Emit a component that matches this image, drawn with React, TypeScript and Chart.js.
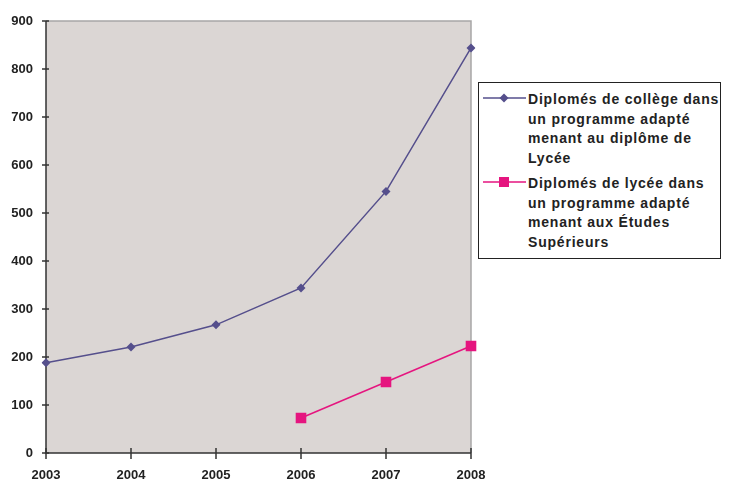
import React, { useEffect, useRef } from "react";
import { Chart, registerables } from "chart.js";

Chart.register(...registerables);

const years = ["2003", "2004", "2005", "2006", "2007", "2008"];
const collegeValues = [188, 221, 267, 344, 545, 844];
const lyceeValues = [null, null, null, 73, 148, 223];
const collegeLabel = ["Diplomés de collège dans", "un programme adapté", "menant au diplôme de", "Lycée"];
const lyceeLabel = ["Diplomés de lycée dans", "un programme adapté", "menant aux Études", "Supérieurs"];

const COLLEGE_COLOR = "#554f8c";
const LYCEE_COLOR = "#e5157f";
const FONT = "'Liberation Sans', Arial, sans-serif";

const plotDecor = {
  id: "plotDecor",
  beforeDatasetsDraw(chart: any) {
    const { ctx, chartArea } = chart;
    const { left, right, top, bottom } = chartArea;
    ctx.save();
    ctx.fillStyle = "#dbd6d4";
    ctx.fillRect(left, top, right - left, bottom - top);
    ctx.strokeStyle = "#a8a6a6";
    ctx.lineWidth = 1.5;
    ctx.beginPath();
    ctx.moveTo(left, top);
    ctx.lineTo(right, top);
    ctx.lineTo(right, bottom);
    ctx.stroke();
    ctx.strokeStyle = "#333333";
    ctx.lineWidth = 1.5;
    ctx.beginPath();
    ctx.moveTo(left, top);
    ctx.lineTo(left, bottom);
    ctx.lineTo(right, bottom);
    ctx.stroke();
    const ys = chart.scales.y;
    ys.ticks.forEach((t: any) => {
      const py = ys.getPixelForValue(t.value);
      ctx.beginPath();
      ctx.moveTo(left - 4, py);
      ctx.lineTo(left + 3, py);
      ctx.stroke();
    });
    const xs = chart.scales.x;
    years.forEach((_, i) => {
      const px = xs.getPixelForValue(i);
      ctx.beginPath();
      ctx.moveTo(px, bottom - 5);
      ctx.lineTo(px, bottom + 6);
      ctx.stroke();
    });
    ctx.restore();
  },
};

export default function App() {
  const ref = useRef<HTMLCanvasElement>(null);
  useEffect(() => {
    if (!ref.current) return;
    const chart = new Chart(ref.current, {
      type: "line",
      data: {
        labels: years,
        datasets: [
          {
            label: collegeLabel.join(" "),
            data: collegeValues,
            borderColor: COLLEGE_COLOR,
            backgroundColor: COLLEGE_COLOR,
            borderWidth: 1.5,
            pointStyle: "rectRot",
            pointRadius: 4.5,
            pointBorderWidth: 0,
          },
          {
            label: lyceeLabel.join(" "),
            data: lyceeValues,
            borderColor: LYCEE_COLOR,
            backgroundColor: LYCEE_COLOR,
            borderWidth: 1.5,
            pointStyle: "rect",
            pointRadius: 7.5,
            pointBorderWidth: 0,
            spanGaps: false,
          },
        ],
      },
      options: {
        animation: false,
        responsive: false,
        layout: { padding: { top: 21, right: 258, left: 0, bottom: 0 } },
        plugins: { legend: { display: false }, tooltip: { enabled: false } },
        scales: {
          x: {
            offset: false,
            grid: { display: false, drawTicks: false },
            border: { display: false },
            ticks: {
              padding: 15,
              color: "#222",
              font: { family: FONT, size: 13, weight: "bold" },
              maxRotation: 0,
              autoSkip: false,
            },
            afterFit(s: any) {
              s.height = 30;
            },
          },
          y: {
            min: 0,
            max: 900,
            grid: { display: false, drawTicks: false },
            border: { display: false },
            ticks: {
              stepSize: 100,
              padding: 13,
              color: "#222",
              font: { family: FONT, size: 13, weight: "bold" },
            },
            afterFit(s: any) {
              s.width = 46;
            },
          },
        },
      },
      plugins: [plotDecor],
    });
    return () => chart.destroy();
  }, []);

  const legendText: React.CSSProperties = {
    fontFamily: FONT,
    fontWeight: "bold",
    fontSize: 14,
    letterSpacing: "0.8px",
    lineHeight: "19.5px",
    color: "#222",
    whiteSpace: "nowrap",
  };

  const entry = (lines: string[], color: string, marker: "diamond" | "square") => (
    <div style={{ display: "flex", alignItems: "flex-start" }}>
      <svg width={49} height={18} style={{ flex: "none" }}>
        <line x1={4} y1={8} x2={47} y2={8} stroke={color} strokeWidth={1.5} />
        {marker === "diamond" ? (
          <polygon points="25,3.5 29.5,8 25,12.5 20.5,8" fill={color} />
        ) : (
          <rect x={20} y={3} width={10} height={10} fill={color} />
        )}
      </svg>
      <div style={legendText}>
        {lines.map((l, i) => (
          <div key={i}>{l}</div>
        ))}
      </div>
    </div>
  );

  return (
    <div style={{ position: "absolute", left: 0, top: 0, width: 729, height: 483, background: "#fff" }}>
      <canvas ref={ref} width={729} height={483} style={{ position: "absolute", left: 0, top: 0 }} />
      <div
        style={{
          position: "absolute",
          left: 478,
          top: 82,
          width: 243,
          height: 177,
          border: "1.5px solid #222",
          boxSizing: "border-box",
          paddingTop: 7,
          background: "#fff",
          overflow: "hidden",
        }}
      >
        {entry(collegeLabel, COLLEGE_COLOR, "diamond")}
        <div style={{ height: 6 }} />
        {entry(lyceeLabel, LYCEE_COLOR, "square")}
      </div>
    </div>
  );
}
